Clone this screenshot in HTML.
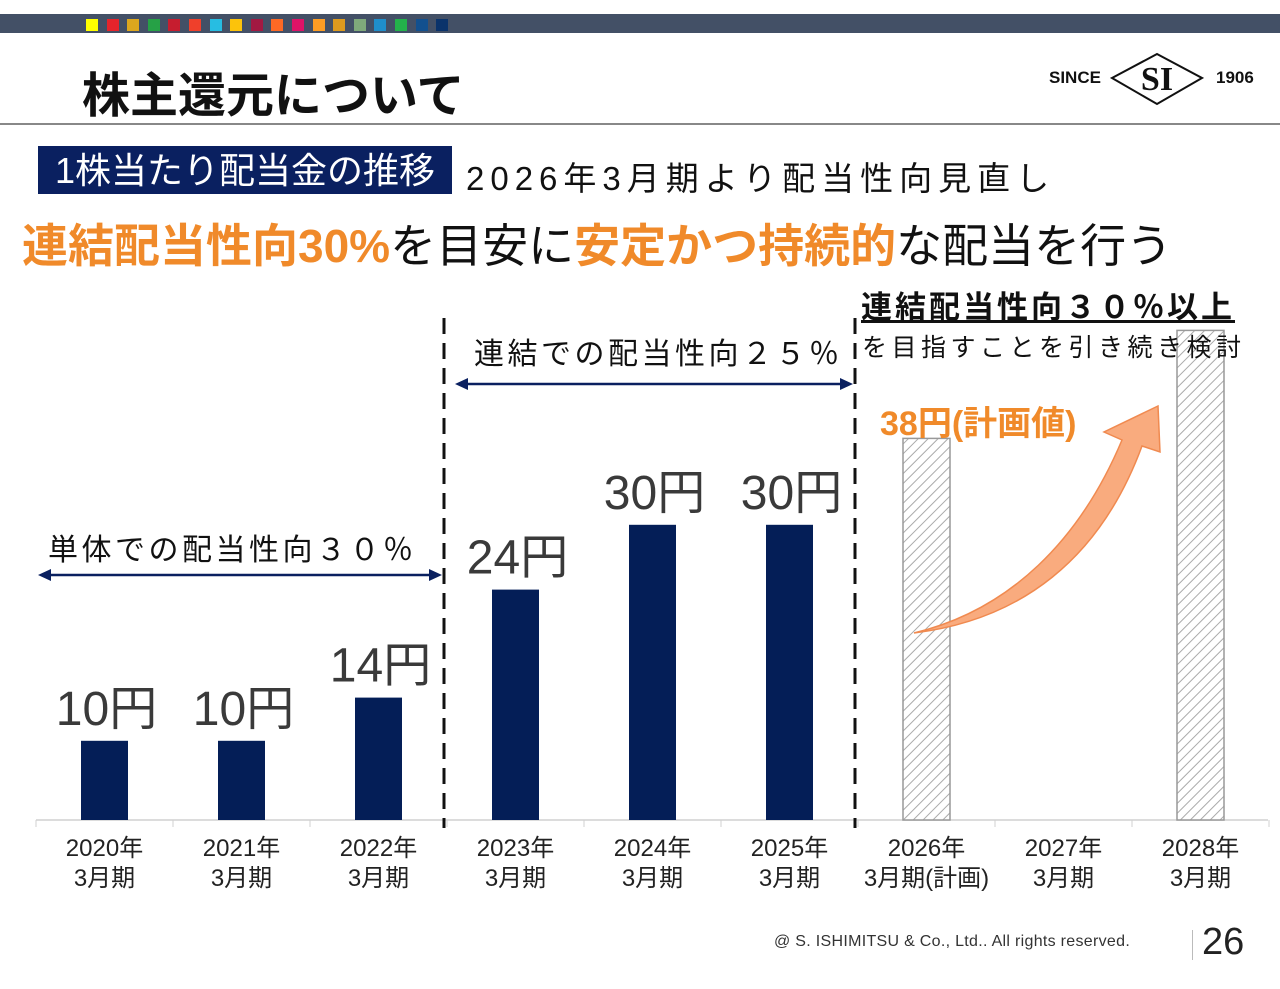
<!DOCTYPE html>
<html><head><meta charset="utf-8"><style>
body{margin:0;width:1280px;height:989px;background:#fff;overflow:hidden;position:relative;font-family:"Liberation Sans","Noto Sans CJK JP",sans-serif;}
.a{position:absolute;white-space:nowrap;}
</style></head><body>
<div class="a" style="left:0;top:14px;width:1280px;height:19px;background:#435066"></div>
<div id="sq" class="a" style="left:0;top:0"></div>
<div class="a" style="left:82px;top:56px;font-size:48px;font-weight:bold;color:#111">株主還元について</div>
<div class="a" style="left:1049px;top:68px;font-size:17px;font-weight:bold;color:#111">SINCE</div>
<svg class="a" style="left:1110px;top:52px" width="94" height="56"><polygon points="2,26 47,2 92,26 47,52" fill="none" stroke="#111" stroke-width="2"/><text x="47" y="38" text-anchor="middle" font-family="Liberation Serif" font-weight="bold" font-size="34" fill="#111">SI</text></svg>
<div class="a" style="left:1216px;top:68px;font-size:17px;font-weight:bold;color:#111">1906</div>
<div class="a" style="left:0;top:123px;width:1280px;height:2px;background:#888"></div>
<div class="a" style="left:38px;top:146px;width:414px;height:48px;background:#0a2060;color:#fff;font-size:36px;line-height:50px;text-align:center">1株当たり配当金の推移</div>
<div class="a" style="left:466px;top:152px;font-size:33px;letter-spacing:6px;color:#111">2026年3月期より配当性向見直し</div>
<div class="a" style="left:22px;top:210px;font-size:46px;color:#111"><span style="color:#f08a2a;font-weight:bold">連結配当性向30%</span>を目安に<span style="color:#f08a2a;font-weight:bold">安定かつ持続的</span>な配当を行う</div>
<svg id="chart" class="a" style="left:0;top:0" width="1280" height="989">
<defs><pattern id="hatch" width="7" height="7" patternUnits="userSpaceOnUse" patternTransform="rotate(45)"><rect width="7" height="7" fill="#fff"/><line x1="0" y1="0" x2="0" y2="7" stroke="#aaa" stroke-width="2"/></pattern></defs>
</svg>
<div class="a" style="left:861px;top:282px;font-size:31px;font-weight:bold;letter-spacing:3px;color:#111;text-decoration:underline">連結配当性向３０％以上</div>
<div class="a" style="left:862px;top:328px;font-size:25px;letter-spacing:4.5px;color:#111">を目指すことを引き続き検討</div>
<div class="a" style="left:774px;top:933px;font-size:16px;letter-spacing:0.3px;color:#333">@ S. ISHIMITSU &amp; Co., Ltd.. All rights reserved.</div>
<div class="a" style="left:1192px;top:930px;width:1px;height:30px;background:#bbb"></div>
<div class="a" style="left:1202px;top:921px;font-size:38px;color:#222">26</div>
<script>
const categories=["2020年|3月期","2021年|3月期","2022年|3月期","2023年|3月期","2024年|3月期","2025年|3月期","2026年|3月期(計画)","2027年|3月期","2028年|3月期"];
const dividends=[10,10,14,24,30,30,38,null,48];
const valueLabels=["10円","10円","14円","24円","30円","30円","",null,""];
const planned=[false,false,false,false,false,false,true,false,true];
const sqColors=["#ffff00","#e5242b","#dda71e","#26a146","#c61d2f","#ef402b","#27bde2","#fcc30b","#a21942","#fd6925","#dd1367","#fd9d24","#dd9a1e","#7fa97b","#1f8ecb","#23b24b","#12508f","#0a336b"];
const sq=document.getElementById('sq');
sqColors.forEach((c,i)=>{const d=document.createElement('div');d.className='a';


d.style.cssText=`left:${86+i*20.6}px;top:19px;width:12px;height:12px;background:${c}`;sq.appendChild(d);});
const svg=document.getElementById('chart');const NS='http://www.w3.org/2000/svg';
function el(t,a,p){const e=document.createElementNS(NS,t);for(const k in a)e.setAttribute(k,a[k]);(p||svg).appendChild(e);return e;}
const base=820,x0=36,step=137;
const xc=i=>x0+step*i+step/2;
const h=v=>10.8*v-28.8;
let ax=el('line',{x1:36,y1:base,x2:1268,y2:base,stroke:'#d0d0d0','stroke-width':1.5});


for(let i=0;i<=categories.length;i++){let t=el('line',{x1:x0+step*i,y1:base,x2:x0+step*i,y2:base+7,stroke:'#d0d0d0'});

}
categories.forEach((c,i)=>{
 const parts=c.split('|');
 parts.forEach((p,j)=>{let t=el('text',{x:xc(i),y:856+j*30,'text-anchor':'middle','font-size':24,fill:'#222'});t.textContent=p;
 
 });
 const v=dividends[i];if(v==null)return;
 const hh=h(v);
 let r=el('rect',{x:xc(i)-23.5,y:base-hh,width:47,height:hh,fill:planned[i]?'url(#hatch)':'#041e57',stroke:planned[i]?'#999':'none','stroke-width':1.5});
 
 
 if(valueLabels[i]){let t=el('text',{x:xc(i)+2,y:base-hh-16,'text-anchor':'middle','font-size':48,fill:'#3a3a3a'});t.textContent=valueLabels[i];
 
 }
});
[444,855].forEach(x=>{let l=el('line',{x1:x,y1:318,x2:x,y2:828,stroke:'#111','stroke-width':3,'stroke-dasharray':'16,9'});

});
function harrow(x1,x2,y,name){let g=el('g',{});
el('line',{x1:x1+8,y1:y,x2:x2-8,y2:y,stroke:'#0a2060','stroke-width':2.5},g);
el('polygon',{points:`${x1},${y} ${x1+13},${y-6} ${x1+13},${y+6}`,fill:'#0a2060'},g);
el('polygon',{points:`${x2},${y} ${x2-13},${y-6} ${x2-13},${y+6}`,fill:'#0a2060'},g);}
harrow(38,442,575,'standalone-arrow');harrow(455,853,384,'consolidated-arrow');
function txt(s,x,y,fs,fill,name,ls,w){let t=el('text',{x,y,'font-size':fs,fill,'letter-spacing':ls||0,'font-weight':w||'normal'});t.textContent=s;

}
txt('単体での配当性向３０％',48,560,30,'#111','standalone-payout-label',3.5);
txt('連結での配当性向２５％',474,364,30,'#111','consolidated-payout-label',3.5);
txt('38円(計画値)',880,435,34,'#f08a2a','plan-value-label',0,'bold');
let ca=el('path',{d:'M914,633 C1010,610 1080,540 1122,440 L1104,432 L1158,406 L1160,452 L1142,446 C1100,560 1020,620 914,633 Z',fill:'#f9ab7e',stroke:'#f08a50','stroke-width':1.5});


</script>
</body></html>
